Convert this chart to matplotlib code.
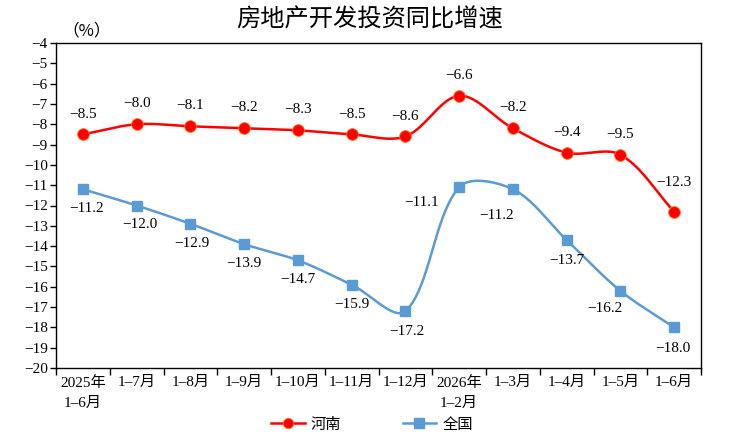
import numpy as np
import matplotlib
matplotlib.use("Agg")
import matplotlib.pyplot as plt
from matplotlib.lines import Line2D

categories = ["2025年\n1–6月", "1–7月", "1–8月", "1–9月", "1–10月", "1–11月", "1–12月",
              "2026年\n1–2月", "1–3月", "1–4月", "1–5月", "1–6月"]
henan = [-8.5, -8.0, -8.1, -8.2, -8.3, -8.5, -8.6, -6.6, -8.2, -9.4, -9.5, -12.3]
national = [-11.2, -12.0, -12.9, -13.9, -14.7, -15.9, -17.2, -11.1, -11.2, -13.7, -16.2, -18.0]
y_ticks = list(range(-20, -3))

plt.rcParams['font.family'] = ['Liberation Serif', 'Noto Sans CJK SC', 'DejaVu Sans']
plt.rcParams['axes.unicode_minus'] = True

RED = "#FF0000"
BLUE = "#5B9BD5"

XS, YS = 53.75, 20.3  # pixel scale per unit, used for length-weighted smoothing


def smooth(xs, ys, n=40):
    P = np.column_stack([np.asarray(xs, float) * XS, np.asarray(ys, float) * YS])
    m = len(P)
    d = [np.linalg.norm(P[i + 1] - P[i]) for i in range(m - 1)]
    out = []
    for i in range(m - 1):
        p1, p2 = P[i], P[i + 1]
        if i > 0:
            T1 = P[i + 1] - P[i - 1]
            c1 = p1 + T1 * (d[i] / (d[i - 1] + d[i])) / 3.0
        else:
            c1 = p1 + (p2 - p1) / 3.0
        if i + 2 < m:
            T2 = P[i + 2] - P[i]
            c2 = p2 - T2 * (d[i] / (d[i] + d[i + 1])) / 3.0
        else:
            c2 = p2 - (p2 - p1) / 3.0
        t = np.linspace(0, 1, n)[:, None]
        seg = (1 - t) ** 3 * p1 + 3 * (1 - t) ** 2 * t * c1 + 3 * (1 - t) * t ** 2 * c2 + t ** 3 * p2
        out.append(seg if i == 0 else seg[1:])
    S = np.vstack(out)
    return S[:, 0] / XS, S[:, 1] / YS


fig = plt.figure(figsize=(7.42, 4.46), dpi=100)
ax = fig.add_axes([56 / 742, 1 - 368 / 446, 645 / 742, 325 / 446])

x = np.arange(len(categories))
ax.set_xlim(-0.5, len(categories) - 0.5)
ax.set_ylim(-20, -4)

sx, sy = smooth(x, henan)
ax.plot(sx, sy, color=RED, lw=1.8, zorder=3)
ax.plot(x, henan, 'o', color=RED, markeredgecolor="#FF7F27", markeredgewidth=0.6, markersize=8.5, zorder=4)
sx, sy = smooth(x, national)
ax.plot(sx, sy, color=BLUE, lw=1.8, zorder=3)
ax.plot(x, national, 's', color=BLUE, markersize=7, zorder=4)

fs = 11
red_off = {11: (0, 16)}
for i, v in enumerate(henan):
    dx, dy = red_off.get(i, (0, 10))
    ax.annotate(f"{v:.1f}".replace("-", "−"), (i, v), xytext=(dx, dy), textcoords="offset points",
                ha="center", va="bottom", fontsize=fs)

nat_off = {0: (3, -14), 1: (2, -14), 2: (1, -14), 3: (0, -14), 4: (0, -14), 5: (0, -14), 6: (1, -15),
           7: (-27, -11), 8: (-12, -19), 9: (0, -15), 10: (-11, -13), 11: (-1, -15)}
for i, v in enumerate(national):
    dx, dy = nat_off[i]
    ax.annotate(f"{v:.1f}".replace("-", "−"), (i, v), xytext=(dx, dy), textcoords="offset points",
                ha="center", va="center", fontsize=fs)

ax.set_yticks(y_ticks)
ax.set_yticklabels([f"{t}".replace("-", "−") for t in y_ticks], fontsize=fs)
ax.set_xticks(x)
ax.set_xticklabels(categories, fontsize=fs, linespacing=1.7)
ax.set_xticks(np.arange(-0.5, len(categories)), minor=True)
ax.tick_params(axis='x', which='major', length=0, pad=6)
ax.tick_params(axis='x', which='minor', length=5, direction='out', width=1)
ax.tick_params(axis='y', length=4, direction='out', width=1, pad=2)
for s in ax.spines.values():
    s.set_linewidth(1.0)
    s.set_color("black")

fig.text(370 / 742, 1 - 20 / 446, "房地产开发投资同比增速", ha="center", va="center", fontsize=17.5,
         family=['Noto Sans CJK SC'])
fig.text(87 / 742, 1 - 31 / 446, "（%）", ha="center", va="center", fontsize=12,
         family=['Noto Sans CJK SC'])

handles = [Line2D([], [], color=RED, lw=1.8, marker='o', markersize=7.5, markeredgecolor="#FF7F27", markeredgewidth=0.6),
           Line2D([], [], color=BLUE, lw=1.8, marker='s', markersize=6.5)]
fig.legend(handles, ["河南", "全国"], loc="center", bbox_to_anchor=(372 / 742, 1 - 424 / 446),
           ncol=2, frameon=False, handlelength=2.2, columnspacing=4, handletextpad=0.4,
           prop={'family': ['Noto Sans CJK SC'], 'size': 11})

fig.savefig("out.png", dpi=100)
